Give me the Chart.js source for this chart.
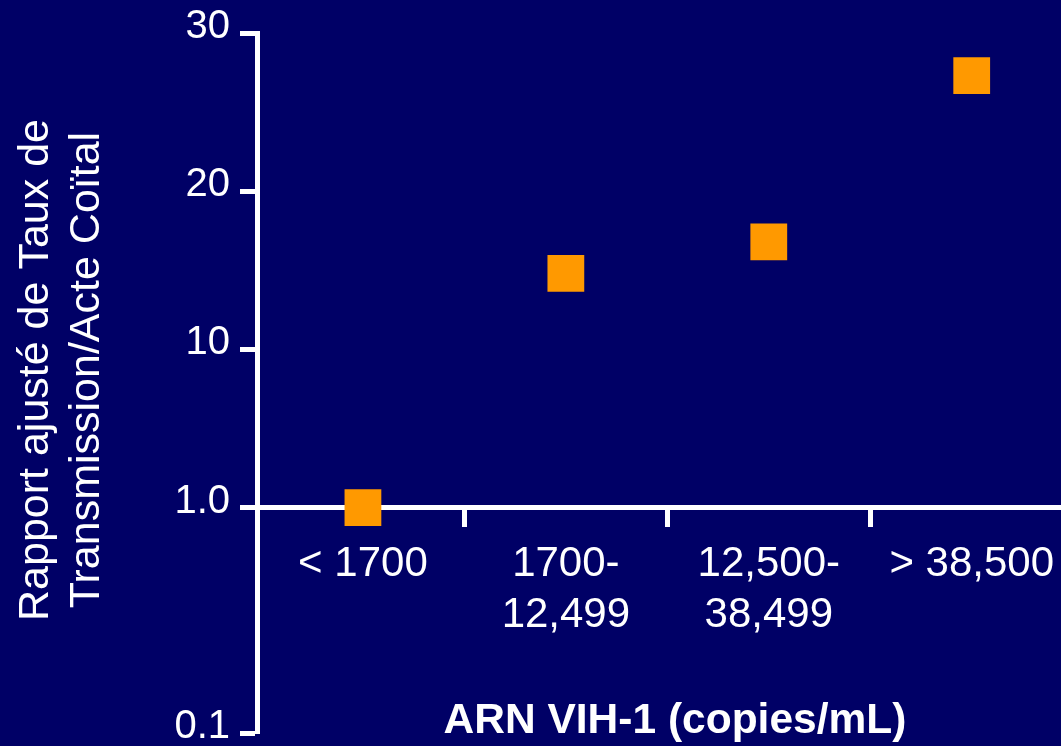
<!DOCTYPE html>
<html>
<head>
<meta charset="utf-8">
<script src="https://cdn.jsdelivr.net/npm/chart.js@4/dist/chart.umd.min.js"></script>
<style>
  html, body { margin: 0; padding: 0; background: #000066; overflow: hidden; }
  #wrap { width: 1061px; height: 746px; position: relative; }
</style>
</head>
<body>
<div id="wrap"><canvas id="chart"></canvas></div>
<script>
// categories (viral load bands) and adjusted ratio per band
const categories = [['< 1700'], ['1700-', '12,499'], ['12,500-', '38,499'], ['> 38,500']];
const ratios = [1.0, 14.8, 16.8, 27.3];

// y axis is broken: 0.1 -> 1.0 stretched, then linear 1 -> 10 -> 20 -> 30
const yTickValues = [0.1, 1, 10, 20, 30];
const yTickLabels = ['0.1', '1.0', '10', '20', '30'];
const ySlots = [-1.425, 0, 1, 2, 3];

const xTitle = 'ARN VIH-1 (copies/mL)';
const yTitle = ['Rapport ajusté de Taux de', 'Transmission/Acte Coïtal'];

function toAxis(v) {
  for (let i = 0; i < yTickValues.length - 1; i++) {
    const a = yTickValues[i], b = yTickValues[i + 1];
    if (v <= b || i === yTickValues.length - 2) {
      return ySlots[i] + (v - a) / (b - a) * (ySlots[i + 1] - ySlots[i]);
    }
  }
}

const FONT = "'Liberation Sans', Arial, sans-serif";
const WHITE = '#ffffff';

const points = ratios.map((r, i) => ({ x: i, y: toAxis(r) }));

// axis titles drawn by hand, the slide has them a bit off-centre
const axisTitles = {
  id: 'axisTitles',
  afterDraw(chart) {
    const { ctx, chartArea } = chart;
    ctx.save();
    ctx.fillStyle = WHITE;
    ctx.textAlign = 'center';
    ctx.textBaseline = 'middle';

    ctx.font = 'bold 42.5px ' + FONT;
    ctx.fillText(xTitle, (chartArea.left + chartArea.right) / 2 + 16, 721);

    ctx.font = '43px ' + FONT;
    ctx.translate(36, 370);
    ctx.rotate(-Math.PI / 2);
    yTitle.forEach((line, i) => ctx.fillText(line, 0, i * 51));
    ctx.restore();
  }
};

new Chart(document.getElementById('chart'), {
  type: 'scatter',
  data: {
    datasets: [{
      data: points,
      pointStyle: 'rect',
      pointRadius: 26,
      pointHoverRadius: 26,
      backgroundColor: '#ff9900',
      borderWidth: 0,
      clip: false
    }]
  },
  plugins: [axisTitles],
  options: {
    responsive: true,
    maintainAspectRatio: false,
    animation: false,
    events: [],
    layout: { autoPadding: false, padding: { top: 33, bottom: 13, left: 0, right: 0 } },
    plugins: { legend: { display: false }, tooltip: { enabled: false } },
    scales: {
      x: {
        type: 'linear',
        bounds: 'data',
        min: -0.522,
        max: 3.44,
        position: { y: 0 },
        afterBuildTicks: (scale) => {
          const t = [];
          for (let i = 0; i < categories.length; i++) {
            t.push({ value: i });
            if (i < categories.length - 1) t.push({ value: i + 0.5 });
          }
          scale.ticks = t;
        },
        afterFit: (scale) => {
          scale.paddingLeft = 0;
          scale.paddingRight = 0;
        },
        border: { display: true, color: WHITE, width: 5 },
        grid: {
          drawOnChartArea: false,
          drawTicks: true,
          tickLength: 17,
          tickWidth: 5,
          tickColor: (ctx) => (ctx.tick && ctx.tick.value % 1 !== 0) ? WHITE : 'rgba(0,0,0,0)'
        },
        ticks: {
          autoSkip: false,
          maxRotation: 0,
          minRotation: 0,
          padding: 15,
          color: WHITE,
          font: { family: FONT, size: 42, lineHeight: 1.2 },
          callback: (v) => (Number.isInteger(v) ? categories[v] : '')
        }
      },
      y: {
        type: 'linear',
        bounds: 'data',
        min: toAxis(yTickValues[0]),
        max: toAxis(yTickValues[yTickValues.length - 1]),
        afterBuildTicks: (scale) => {
          scale.ticks = yTickValues.map(v => ({ value: toAxis(v) }));
        },
        afterFit: (scale) => {
          scale.width = 257;
          scale.paddingTop = 0;
          scale.paddingBottom = 0;
        },
        border: { display: true, color: WHITE, width: 5 },
        grid: {
          drawOnChartArea: false,
          drawTicks: true,
          tickLength: 17,
          tickWidth: 5,
          tickColor: WHITE
        },
        ticks: {
          padding: 10,
          labelOffset: -6,
          color: WHITE,
          font: { family: FONT, size: 40 },
          callback: (v, i) => yTickLabels[i]
        }
      }
    }
  }
});
</script>
</body>
</html>
